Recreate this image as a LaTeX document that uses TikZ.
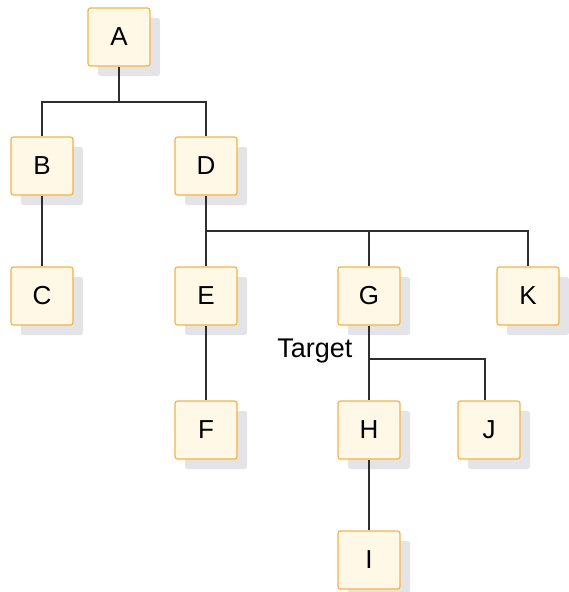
\documentclass[tikz,border=0pt]{standalone}
\usepackage{fontspec}
\setmainfont{Liberation Sans}
\usetikzlibrary{shadows}
\definecolor{boxfill}{HTML}{FFF8E6}
\definecolor{boxedge}{HTML}{F2B347}
\definecolor{shadowgray}{HTML}{E4E4E7}
\definecolor{linkgray}{HTML}{2E2E2E}
\tikzset{
  treebox/.style={draw=boxedge, fill=boxfill, line width=1.2pt, rounded corners=2.5pt,
    minimum width=62pt, minimum height=58pt, inner sep=0pt, font=\fontsize{26}{30}\selectfont,
    drop shadow={shadow xshift=10pt, shadow yshift=-10pt, fill=shadowgray, opacity=1}},
  link/.style={draw=linkgray, line width=1.1pt}
}
\begin{document}
\begin{tikzpicture}[x=1pt, y=-1pt]
  \useasboundingbox (0,0) rectangle (568,592);
  % Tree nodes
  \node[treebox] (A) at (119,37) {A};
  \node[treebox] (B) at (42,166) {B};
  \node[treebox] (D) at (206,166) {D};
  \node[treebox] (C) at (42,296) {C};
  \node[treebox] (E) at (206,296) {E};
  \node[treebox] (G) at (369,296) {G};
  \node[treebox] (K) at (528,296) {K};
  \node[treebox] (F) at (206,430) {F};
  \node[treebox] (H) at (369,430) {H};
  \node[treebox] (J) at (489,430) {J};
  \node[treebox] (I) at (369,560) {I};
  % Bus points
  \coordinate (busA) at (119,102);
  \coordinate (busD) at (206,231);
  \coordinate (busG) at (369,359);
  % Links from A
  \draw[link] (A.south) -- (busA);
  \draw[link] (B.north) |- (busA) -| (D.north);
  \draw[link] (B.south) -- (C.north);
  % Links from D
  \draw[link] (D.south) -- (E.north);
  \draw[link] (busD) -| (G.north);
  \draw[link] (busD) -| (K.north);
  \draw[link] (E.south) -- (F.north);
  % Links from G
  \draw[link] (G.south) -- (H.north);
  \draw[link] (busG) -| ([xshift=-4pt]J.north);
  \draw[link] (H.south) -- (I.north);
  % Label
  \node[font=\fontsize{27}{31}\selectfont, anchor=east] (target) at (356,351) {Target};
\end{tikzpicture}
\end{document}
